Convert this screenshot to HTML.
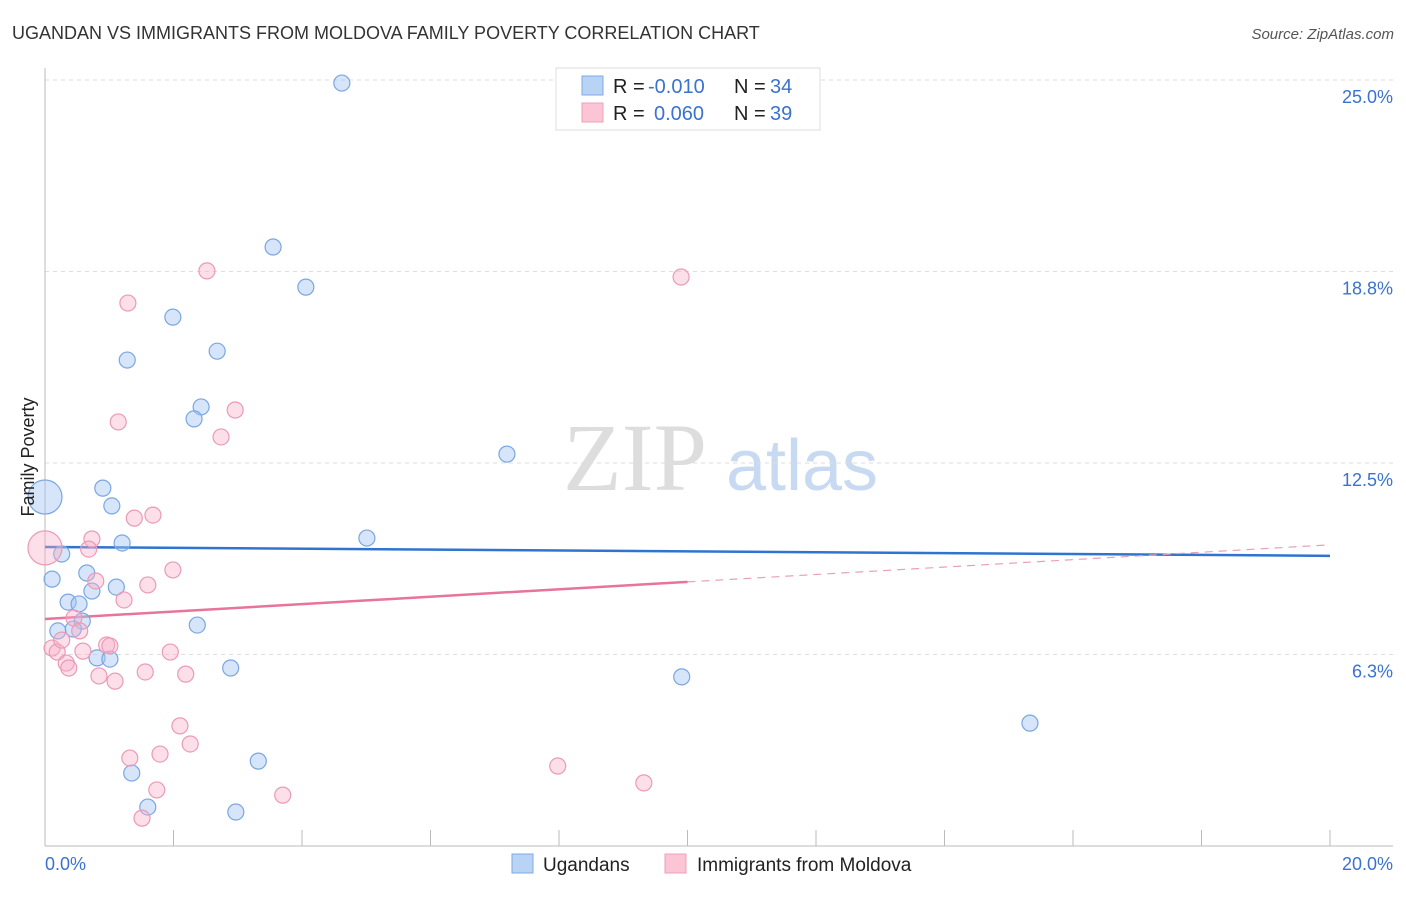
<!DOCTYPE html>
<html><head><meta charset="utf-8">
<style>
body{margin:0;background:#fff;font-family:"Liberation Sans",sans-serif;}
svg text{font-family:"Liberation Sans",sans-serif;}
</style></head>
<body>
<svg id="chart" width="1406" height="892" xmlns="http://www.w3.org/2000/svg">
<text x="12" y="39" font-size="18" fill="#333">UGANDAN VS IMMIGRANTS FROM MOLDOVA FAMILY POVERTY CORRELATION CHART</text>
<text x="1394" y="39" font-size="15" fill="#555" text-anchor="end" font-style="italic">Source: ZipAtlas.com</text>
<g>
<text x="635" y="490" font-size="96" fill="#ddd" text-anchor="middle" font-family="Liberation Serif" style="font-family:'Liberation Serif',serif">ZIP</text>
<text x="802" y="490" font-size="72" fill="#c8daf2" text-anchor="middle">atlas</text>
</g>
<g id="grid"></g>
<g id="axes"></g>
<g id="trends"></g>
<g id="points"></g>
<text transform="translate(34,457) rotate(-90)" font-size="18" fill="#222" text-anchor="middle">Family Poverty</text>
<g>
<rect x="556" y="68" width="264" height="62" fill="#fff" stroke="#ddd"/>
<rect x="582" y="76" width="21" height="19" fill="#b9d3f5" stroke="#7ea9e3"/>
<rect x="582" y="103" width="21" height="19" fill="#fbc5d5" stroke="#eca0b9"/>
<text x="613" y="93" font-size="20" fill="#222">R = </text><text x="648" y="93" font-size="20" fill="#3a72d0">-0.010</text>
<text x="734" y="93" font-size="20" fill="#222">N = </text><text x="770" y="93" font-size="20" fill="#3a72d0">34</text>
<text x="613" y="120" font-size="20" fill="#222">R = </text><text x="654" y="120" font-size="20" fill="#3a72d0">0.060</text>
<text x="734" y="120" font-size="20" fill="#222">N = </text><text x="770" y="120" font-size="20" fill="#3a72d0">39</text>
</g>
<g>
<rect x="512" y="854" width="21" height="19" fill="#b9d3f5" stroke="#7ea9e3"/>
<text x="543" y="871" font-size="19" fill="#222">Ugandans</text>
<rect x="665" y="854" width="21" height="19" fill="#fbc5d5" stroke="#eca0b9"/>
<text x="697" y="871" font-size="19" fill="#222">Immigrants from Moldova</text>
</g>
</svg>
<script>
const yTicks=[25.0,18.8,12.5,6.3];
const yTickVals=[25,18.75,12.5,6.25];
const xTickLabels=["0.0%","20.0%"];
const blueX=[4.62,3.55,4.06,1.99,1.28,2.68,2.43,2.32,7.19,0.90,1.04,0,1.20,5.01,0.26,0.11,0.65,1.11,0.73,0.36,0.53,0.58,0.20,0.44,2.37,0.81,1.01,2.89,9.91,15.33,1.35,3.32,1.60,2.97];
const blueY=[24.90,19.55,18.24,17.26,15.86,16.15,14.33,13.94,12.79,11.68,11.10,11.39,9.89,10.05,9.53,8.71,8.91,8.45,8.32,7.96,7.90,7.34,7.02,7.08,7.21,6.14,6.10,5.81,5.52,4.01,2.38,2.77,1.27,1.11];
const pinkX=[2.52,9.90,1.29,2.96,1.14,2.74,1.68,1.39,0.73,0.68,0,1.99,0.79,1.60,1.23,0.45,0.54,0.11,0.19,0.96,1.01,0.59,1.95,0.33,0.37,1.56,2.19,0.84,1.09,2.10,2.26,1.79,1.32,7.98,9.32,1.74,3.70,1.51,0.26];
const pinkY=[18.77,18.57,17.72,14.23,13.84,13.35,10.80,10.70,10.02,9.69,9.73,9.01,8.65,8.52,8.03,7.44,7.02,6.46,6.33,6.56,6.53,6.36,6.33,5.97,5.81,5.68,5.61,5.55,5.38,3.92,3.33,3.00,2.87,2.61,2.06,1.83,1.66,0.91,6.72];
const blueTrend=[9.76,9.47];
const pinkTrend=[7.41,9.83];
const pinkSolidEnd=10;
const X=v=>45+v*64.25, Y=v=>846-v*30.64;
const NS="http://www.w3.org/2000/svg";
function mk(tag,attrs,parent){const e=document.createElementNS(NS,tag);for(const k in attrs)e.setAttribute(k,attrs[k]);document.getElementById(parent).appendChild(e);return e;}
yTickVals.forEach((v,i)=>{
 const l=mk('line',{x1:45,x2:1393,y1:Y(v),y2:Y(v),stroke:'#ddd','stroke-dasharray':'4,4'},'grid');
 
 
 const t=mk('text',{x:1393,y:Y(v)+23,'font-size':18,fill:'#3a72d0','text-anchor':'end'},'grid');
 t.textContent=yTicks[i].toFixed(1)+'%';
 
 
});
let a=mk('line',{x1:45,x2:45,y1:68,y2:846,stroke:'#bbb'},'axes');


a=mk('line',{x1:45,x2:1393,y1:846,y2:846,stroke:'#bbb'},'axes');


for(let i=0;i<=10;i++){const t=mk('line',{x1:X(i*2),x2:X(i*2),y1:830,y2:846,stroke:'#bbb'},'axes');
 
 }
[[0,'start',45],[20,'end',1393]].forEach((d,i)=>{const t=mk('text',{x:d[2],y:870,'font-size':18,fill:'#3a72d0','text-anchor':d[1]},'axes');t.textContent=xTickLabels[i];
 
 });
let tl=mk('line',{x1:X(0),x2:X(20),y1:Y(blueTrend[0]),y2:Y(blueTrend[1]),stroke:'#2f74d0','stroke-width':2.5},'trends');


const pm=pinkTrend[0]+(pinkTrend[1]-pinkTrend[0])*pinkSolidEnd/20;
tl=mk('line',{x1:X(0),x2:X(pinkSolidEnd),y1:Y(pinkTrend[0]),y2:Y(pm),stroke:'#e8739b','stroke-width':2.5},'trends');


tl=mk('line',{x1:X(pinkSolidEnd),x2:X(20),y1:Y(pm),y2:Y(pinkTrend[1]),stroke:'#e8a0b8','stroke-width':1.2,'stroke-dasharray':'8,6'},'trends');


function pts(xs,ys,fill,stroke,name){xs.forEach((x,i)=>{const big=(x===0);const c=mk('circle',{cx:X(x),cy:Y(ys[i]),r:big?17:8,fill:fill,stroke:stroke,'stroke-width':1.2},'points');
 
 });}
pts(blueX,blueY,'rgba(165,198,242,0.45)','#7aa7e0','ugandans-point');
pts(pinkX,pinkY,'rgba(247,175,200,0.4)','#eb9ab6','moldova-point');
</script>
</body></html>
